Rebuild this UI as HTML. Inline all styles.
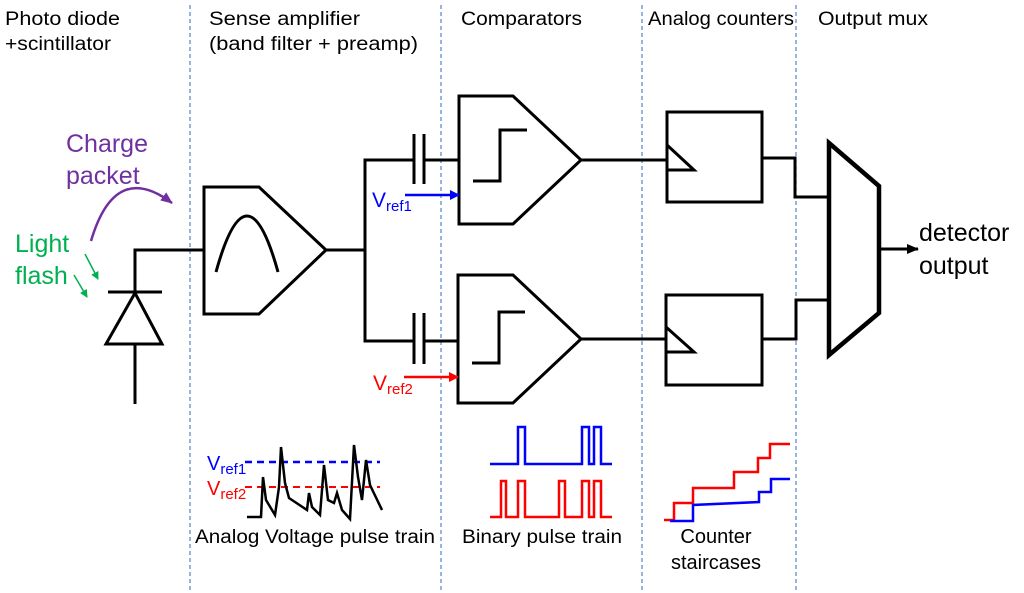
<!DOCTYPE html>
<html><head><meta charset="utf-8"><style>body{margin:0;background:#fff}svg{display:block}text{font-family:"Liberation Sans",sans-serif}</style></head><body>
<svg width="1024" height="593" viewBox="0 0 1024 593" xmlns="http://www.w3.org/2000/svg">
<defs>
<marker id="ab" markerWidth="10" markerHeight="10" refX="9" refY="5" orient="auto" markerUnits="userSpaceOnUse"><path d="M0,0 L10,5 L0,10 z" fill="#0000ff"/></marker>
<marker id="ar" markerWidth="10" markerHeight="10" refX="9" refY="5" orient="auto" markerUnits="userSpaceOnUse"><path d="M0,0 L10,5 L0,10 z" fill="#ff0000"/></marker>
<marker id="ak" markerWidth="12" markerHeight="10" refX="11" refY="5" orient="auto" markerUnits="userSpaceOnUse"><path d="M0,0 L12,5 L0,10 z" fill="#000"/></marker>
<marker id="ap" markerWidth="12" markerHeight="10" refX="11" refY="5" orient="auto" markerUnits="userSpaceOnUse"><path d="M0,0 L12,5 L0,10 z" fill="#7030a0"/></marker>
<marker id="ag" markerWidth="8" markerHeight="8" refX="7" refY="4" orient="auto" markerUnits="userSpaceOnUse"><path d="M0,0 L8,4 L0,8 z" fill="#00b050"/></marker>
</defs>
<g stroke="#5b8fd0" stroke-width="1.3" stroke-dasharray="4,3">
<line x1="190" y1="5" x2="190" y2="593"/><line x1="441" y1="5" x2="441" y2="593"/><line x1="642" y1="5" x2="642" y2="593"/><line x1="796" y1="5" x2="796" y2="593"/>
</g>
<g font-size="19" fill="#000">
<text x="5" y="25" textLength="115" lengthAdjust="spacingAndGlyphs">Photo diode</text>
<text x="5" y="50" textLength="106" lengthAdjust="spacingAndGlyphs">+scintillator</text>
<text x="209" y="25" textLength="151" lengthAdjust="spacingAndGlyphs">Sense amplifier</text>
<text x="209" y="50" textLength="209" lengthAdjust="spacingAndGlyphs">(band filter + preamp)</text>
<text x="461" y="25" textLength="121" lengthAdjust="spacingAndGlyphs">Comparators</text>
<text x="648" y="25" textLength="146" lengthAdjust="spacingAndGlyphs">Analog counters</text>
<text x="818" y="25" textLength="110" lengthAdjust="spacingAndGlyphs">Output mux</text>
</g>
<g fill="none" stroke="#000" stroke-width="3" stroke-linejoin="miter">
<polyline points="204,250 135,250 135,292"/>
<line x1="108" y1="292" x2="162" y2="292"/>
<polygon points="106,344 162,344 135,293"/>
<line x1="135" y1="344" x2="135" y2="404"/>
<polygon points="204,187 259,187 326,250 259,314 204,314"/>
<path d="M216,272 Q247,160 278,272"/>
<polyline points="326,250 365,250"/>
<polyline points="414,160 365,160 365,341 414,341"/>
<line x1="424" y1="160" x2="459" y2="160"/><line x1="424" y1="341" x2="458" y2="341"/>
<line x1="414" y1="134" x2="414" y2="184"/><line x1="424" y1="134" x2="424" y2="184"/>
<line x1="414" y1="313" x2="414" y2="364"/><line x1="424" y1="313" x2="424" y2="364"/>
<polygon points="459,96 513,96 581,160 513,224 459,224"/>
<polyline points="473,181 500,181 500,130 527,130"/>
<polygon points="458,275 513,275 581,339 513,403 458,403"/>
<polyline points="472,363 499,363 499,312 525,312"/>
<line x1="581" y1="160" x2="667" y2="160"/>
<line x1="581" y1="339" x2="666" y2="339"/>
<rect x="667" y="112" width="95" height="90"/>
<polyline points="667,145 694,170 667,170"/>
<rect x="666" y="295" width="96" height="90"/>
<polyline points="666,327 694,352 666,352"/>
<polyline points="762,158 795,158 795,197 829,197"/>
<polyline points="762,339 796,339 796,300 829,300"/>
<line x1="879" y1="249" x2="918" y2="249" marker-end="url(#ak)"/>
</g>
<polygon points="829,143 879,186 879,313 829,355" fill="none" stroke="#000" stroke-width="4.5"/>
<line x1="405" y1="195" x2="459" y2="195" stroke="#0000ff" stroke-width="2.5" marker-end="url(#ab)"/>
<line x1="404" y1="377" x2="458" y2="377" stroke="#ff0000" stroke-width="2.5" marker-end="url(#ar)"/>
<g font-size="21">
<text x="372" y="207" fill="#0000ff">V<tspan font-size="15" dy="4">ref1</tspan></text>
<text x="373" y="390" fill="#ff0000">V<tspan font-size="15" dy="4">ref2</tspan></text>
</g>
<path d="M91,241 Q115,160 172,203" fill="none" stroke="#7030a0" stroke-width="2.5" marker-end="url(#ap)"/>
<line x1="85" y1="254" x2="98" y2="279" stroke="#00b050" stroke-width="1.5" marker-end="url(#ag)"/>
<line x1="74" y1="275" x2="87" y2="297" stroke="#00b050" stroke-width="1.5" marker-end="url(#ag)"/>
<g font-size="25">
<text x="66" y="152" fill="#7030a0">Charge</text>
<text x="66" y="184" fill="#7030a0">packet</text>
<text x="15" y="252" fill="#00b050">Light</text>
<text x="15" y="284" fill="#00b050">flash</text>
<text x="919" y="241" fill="#000">detector</text>
<text x="919" y="274" fill="#000">output</text>
</g>
<line x1="245" y1="462" x2="380" y2="462" stroke="#0000ff" stroke-width="2.5" stroke-dasharray="7,5"/>
<line x1="245" y1="487" x2="380" y2="487" stroke="#ff0000" stroke-width="2" stroke-dasharray="7,5"/>
<g font-size="20">
<text x="207" y="470" fill="#0000ff">V<tspan font-size="15" dy="4">ref1</tspan></text>
<text x="207" y="495" fill="#ff0000">V<tspan font-size="15" dy="4">ref2</tspan></text>
</g>
<polyline fill="none" stroke="#000" stroke-width="2.5" points="247,517 261,517 263,477 266,500 275,515 279,487 281,447 285,483 289,498 307,510 309,493 312,507 320,515 324,465 328,500 334,503 337,493 342,510 350,519 354,445 358,477 362,500 366,460 370,485 382,510"/>
<polyline fill="none" stroke="#0000ff" stroke-width="2.5" points="490,464 518,464 518,427 525,427 525,464 582,464 582,427 589,427 589,464 594,464 594,427 601,427 601,464 612,464"/>
<polyline fill="none" stroke="#ff0000" stroke-width="2.5" points="490,517 501,517 501,481 506,481 506,517 518,517 518,481 525,481 525,517 559,517 559,481 565,481 565,517 582,517 582,481 589,481 589,517 594,517 594,481 601,481 601,517 612,517"/>
<polyline fill="none" stroke="#ff0000" stroke-width="2.5" points="664,520 674,520 674,503 693,503 693,488 734,488 734,472 758,472 758,458 770,458 770,444 790,444"/>
<polyline fill="none" stroke="#0000ff" stroke-width="2.5" points="670,521 693,521 693,505 759,502 759,492 771,492 771,479 790,479"/>
<g font-size="19">
<text x="195" y="543" textLength="240" lengthAdjust="spacingAndGlyphs">Analog Voltage pulse train</text>
<text x="462" y="543" textLength="160" lengthAdjust="spacingAndGlyphs">Binary pulse train</text>
<text x="716" y="543" text-anchor="middle" font-size="20">Counter</text>
<text x="716" y="569" text-anchor="middle" font-size="20">staircases</text>
</g>
</svg>
</body></html>
